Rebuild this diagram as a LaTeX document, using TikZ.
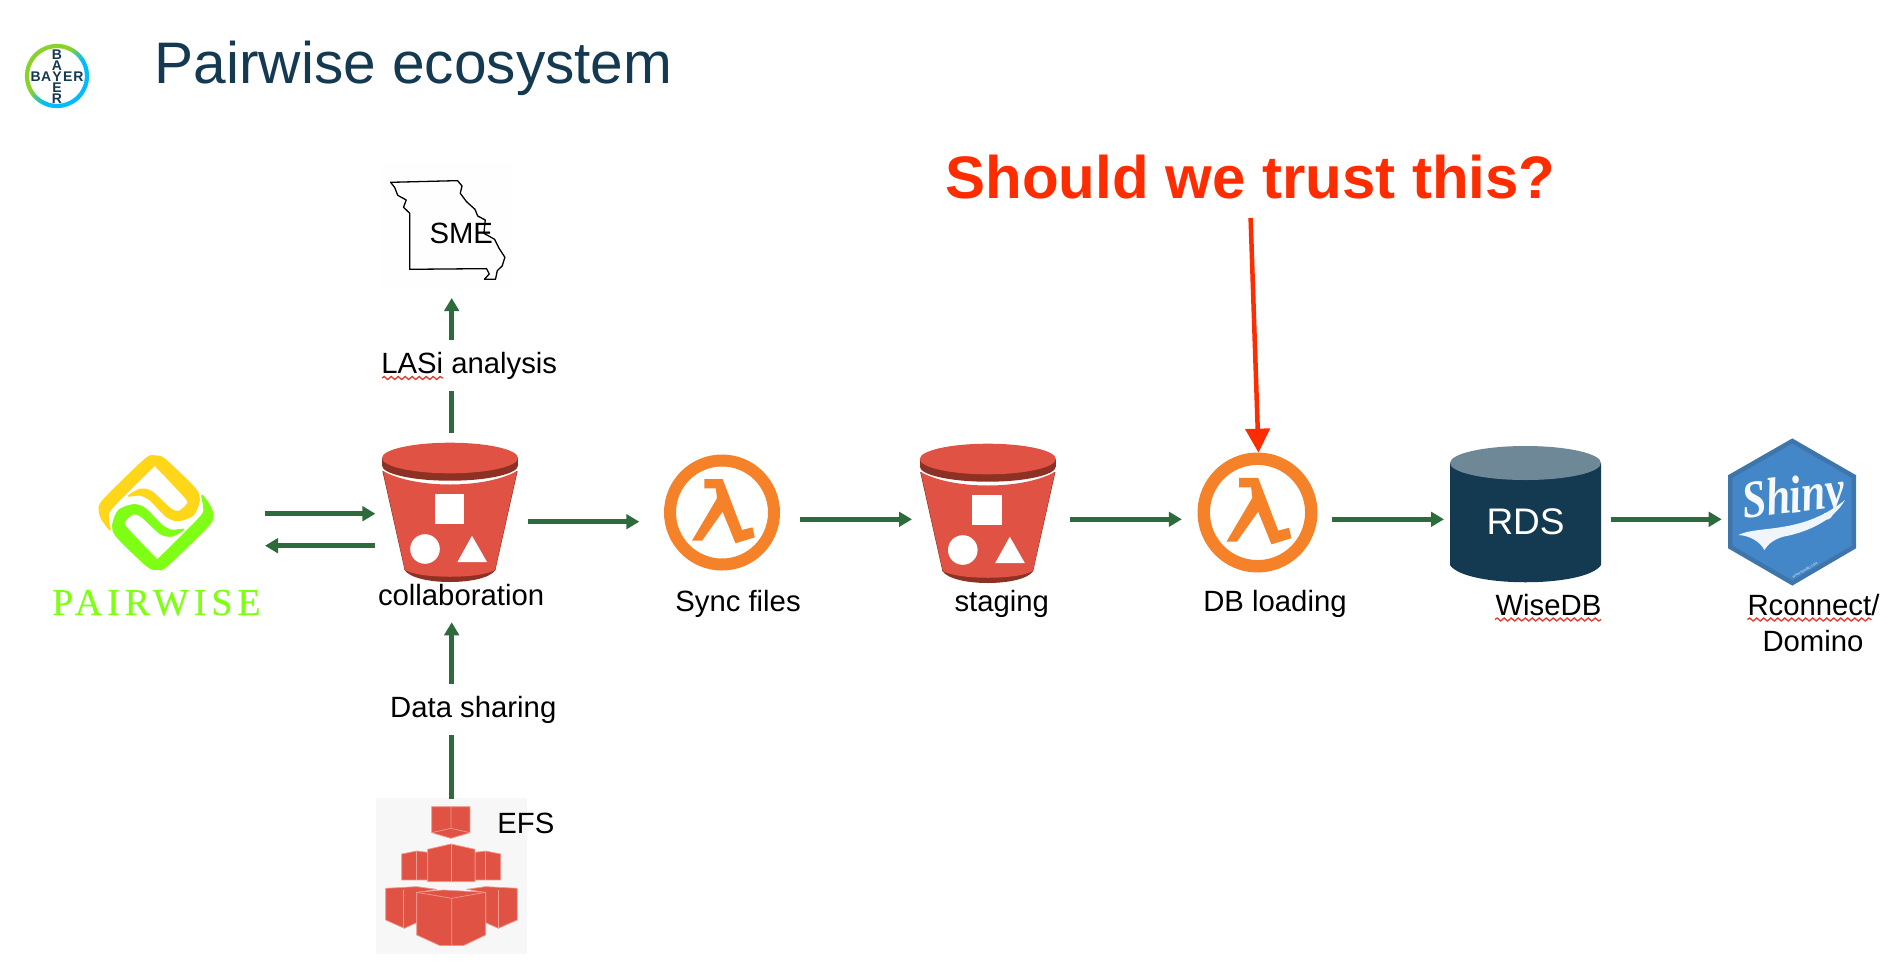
\documentclass[tikz,border=0pt]{standalone}
\usepackage{fontspec}
\setmainfont{Liberation Sans}
\newfontfamily\serifw{Liberation Serif}
\usetikzlibrary{arrows.meta,calc,decorations.pathmorphing}
\definecolor{navy}{HTML}{143A52}
\definecolor{flow}{HTML}{2D6A3C}
\definecolor{alarm}{HTML}{FF2C00}
\definecolor{awsred}{HTML}{E05243}
\definecolor{awsdark}{HTML}{8C3123}
\definecolor{awsedge}{HTML}{F09A90}
\definecolor{lam}{HTML}{F58229}
\definecolor{pwgreen}{HTML}{7FFF14}
\definecolor{pwyellow}{HTML}{FFD618}
\definecolor{bayergreen}{HTML}{89D329}
\definecolor{bayercyan}{HTML}{00BCFF}
\definecolor{rdstop}{HTML}{6E8898}
\definecolor{hexfill}{HTML}{4487C9}
\definecolor{hexedge}{HTML}{3E76AC}
\definecolor{squig}{HTML}{E8372E}
\definecolor{nearwhite}{HTML}{FEFEFE}
\tikzset{
  anchorbox/.style={inner sep=0pt,outer sep=0pt,minimum width=#1},
  lab/.style={inner sep=0pt,outer sep=0pt,anchor=base west,font=\fontsize{29.3}{35}\selectfont,text=black},
  onarrow/.style={lab,fill=white,anchor=base},
  flowarrow/.style={draw=flow,line width=4.5pt,-{Triangle[length=13pt,width=14.5pt]}},
  alarmarrow/.style={draw=alarm,line width=4.5pt,-{Triangle[length=24pt,width=24pt]}},
  squiggle/.style={draw=squig,line width=1.3pt,decorate,decoration={snake,amplitude=1.5pt,segment length=7pt}},
  logoletter/.style={inner sep=0pt,outer sep=0pt,text=navy,font=\fontsize{14}{16}\selectfont\bfseries},
  pics/bucketicon/.style={code={
    \fill[awsdark] (-45.4,108) -- (-45.4,112) .. controls (-35,128) and (35,128) .. (45.4,112) -- (45.4,108) -- cycle;
    \fill[awsdark] (-67.6,13) -- (-45.4,112) -- (-44.4,112) -- (-66,13) -- cycle;
    \fill[awsdark] (67.6,13) -- (45.4,112) -- (44.4,112) -- (66,13) -- cycle;
    \fill[awsred] (-67,13) .. controls (-35,31) and (35,31) .. (67,13) -- (45,112) .. controls (30,121) and (-30,121) .. (-45,112) -- cycle;
    \fill[awsdark] (0,7.5) ellipse [x radius=68,y radius=15.2];
    \fill[awsdark] (-68,0) rectangle (68,7.5);
    \fill[awsred] (0,0) ellipse [x radius=68,y radius=15.3];
    \fill[white] (-15.5,36) rectangle (14,66);
    \fill[white] (-25,91) circle [radius=14.8];
    \fill[white] (7.4,104) -- (37,104) -- (22,77.7) -- cycle;
  }},
  pics/lambdaicon/.style={code={
    \fill[lam,even odd rule] (0,0) circle [radius=58] circle [radius=46];
    \fill[lam] (-17.7,-33.5) -- (0.6,-33.5) -- (20,17.5) -- (30.5,14.8) -- (32.8,24.8) -- (13.5,30.8) -- (0.6,-0.8) -- (-20,28.2) -- (-30,28.2) -- (-5,-14.2) -- (-6.2,-24.2) -- (-17.7,-24.2) -- cycle;
  }},
}
\begin{document}
\begin{tikzpicture}[x=1pt,y=-1pt]
\useasboundingbox (0,0) rectangle (1902,974);
\fill[white] (0,0) rectangle (1902,974);

% ---- Bayer logo
\foreach \a in {0,5,...,355}{
  \pgfmathsetmacro{\t}{max(0,min(100,50-170*cos(\a-135)))}
  \colorlet{ringc}{bayercyan!\t!bayergreen}
  \draw[ringc,line width=4.2pt] ({57+30*cos(\a)},{76-30*sin(\a)}) -- ({57+30*cos(\a+6)},{76-30*sin(\a+6)});
}
\foreach \l/\i in {B/-2,A/-1,E/1,R/2}{
  \node[logoletter] (logov\l) at (57,{76.7+\i*10.9}) {\l};
}
\foreach \l/\i in {B/-2,A/-1,Y/0,E/1,R/2}{
  \node[logoletter] (logoh\l) at ({57+\i*10.7},76.7) {\l};
}

% ---- title
\node[inner sep=0pt,anchor=base west,text=navy,font=\fontsize{58.6}{70}\selectfont] (title) at (154.5,83) {Pairwise ecosystem};

% ---- connector anchors (invisible)
\node[anchorbox=215pt,minimum height=180pt] (pw) at (157.5,525) {};
\node[anchorbox=152.6pt,minimum height=189.3pt] (coll) at (451.7,527.6) {};
\node[anchorbox=160.7pt,minimum height=120pt] (sync) at (719.65,512.5) {};
\node[anchorbox=158pt,minimum height=140pt] (stag) at (991,512.5) {};
\node[anchorbox=150.6pt,minimum height=120pt] (db) at (1257.1,512.7) {};
\node[anchorbox=166.6pt,minimum height=135pt] (rds) at (1527.3,513.5) {};
\node[anchorbox=138.3pt,minimum height=147pt] (shiny) at (1790.85,512) {};
\node[anchorbox=131pt,minimum height=135pt] (sme) at (447.5,230.5) {};
\node[anchorbox=150.7pt,minimum height=156pt] (efs) at (451.35,877) {};
\coordinate (lvA) at (0,513.7);
\coordinate (lvB) at (0,545.7);
\coordinate (lvC) at (0,521.7);
\coordinate (lvD) at (0,519.3);

% ---- SME map
\fill[nearwhite] (382,163) rectangle (513,290);
\begin{scope}[x=0.4464pt,y=-0.3333pt]
\draw[black,line width=1.3pt,line join=round] (875,547) -- (1025,542) -- (1035,558) -- (1031,580) -- (1045,605) -- (1064,628) -- (1070,648) -- (1087,660) -- (1084,700) -- (1108,718) -- (1118,745) -- (1131,772) -- (1125,798) -- (1114,812) -- (1110,838) -- (1085,838) -- (1096,822) -- (1090,806) -- (918,808) -- (918,640) -- (904,622) -- (910,600) -- (891,586) -- (884,562) -- cycle;
\end{scope}
\node[lab] (smelab) at (429.5,243) {SME};

% ---- EFS
\fill[black!3] (376,798) rectangle (526.7,954);
\begin{scope}[shift={(340,640)},x=0.3333pt,y=-0.3333pt,draw=awsedge,line width=0.7pt,fill=awsred,line join=round]
\filldraw (275,500) -- (390,500) -- (390,578) -- (333,595) -- (275,578) -- cycle;
\draw (333,500) -- (333,565) (275,578) -- (333,565) -- (390,578);
\filldraw (185,642) -- (230,633) -- (263,637) -- (263,720) -- (185,720) -- cycle;
\draw (230,633) -- (230,720);
\filldraw (405,637) -- (437,633) -- (482,642) -- (482,720) -- (405,720) -- cycle;
\draw (437,633) -- (437,720);
\filldraw (263,628) -- (333,612) -- (405,628) -- (405,725) -- (263,725) -- cycle;
\draw (333,612) -- (333,725);
\filldraw (137,745) -- (230,740) -- (290,748) -- (230,758) -- (230,848) -- (193,865) -- (137,840) -- cycle;
\draw (190,750) -- (190,865);
\filldraw (380,748) -- (437,740) -- (532,745) -- (532,840) -- (475,865) -- (437,848) -- (437,758) -- cycle;
\draw (475,750) -- (475,865);
\filldraw (230,757) -- (310,750) -- (437,757) -- (437,885) -- (370,917) -- (300,917) -- (230,885) -- cycle;
\draw (230,757) -- (335,775) -- (437,757) (335,775) -- (335,917);
\end{scope}
\node[lab] (efslab) at (497.3,833.3) {EFS};

% ---- Pairwise logo
\begin{scope}[shift={(90,450)},x=0.3333pt,y=-0.3333pt]
\def\pwshape{plot[smooth cycle,tension=0.45] coordinates {(60,240) (36,208) (28,182) (40,150) (165,28) (195,18) (225,28) (315,115) (328,150) (310,195) (265,212) (230,200) (180,150) (150,135) (115,138) (150,118) (185,125) (240,175) (265,185) (290,165) (288,145) (200,52) (190,50) (65,175) (55,205)}}
\filldraw[fill=pwyellow,draw=pwyellow,line width=1.2pt,line join=round] \pwshape;
\begin{scope}[rotate around={180:(198,188)}]
\filldraw[fill=pwgreen,draw=pwgreen,line width=1.2pt,line join=round] \pwshape;
\end{scope}
\end{scope}
\node[inner sep=0pt,anchor=base west,text=pwgreen,font=\serifw\fontsize{38}{44}\selectfont\addfontfeature{LetterSpace=13,FakeBold=0.25}] (pwlab) at (52,615) {PAIRWISE};

% ---- buckets and lambdas
\pic at (450,458) {bucketicon};
\pic at (987.8,459) {bucketicon};
\pic at (722,512.5) {lambdaicon};
\pic[scale=1.034] at (1257.5,512.5) {lambdaicon};

% ---- RDS
\fill[navy] (1450,463) -- (1450,565) .. controls (1465,588) and (1586,588) .. (1601,565) -- (1601,463) -- cycle;
\fill[rdstop] (1525.5,463) ellipse [x radius=75.5,y radius=17];
\node[lab,text=white,font=\fontsize{37}{44}\selectfont] (rdslab) at (1486.5,534) {RDS};

% ---- Shiny hexagon
\filldraw[fill=hexfill,draw=hexedge,line width=4.5pt,line join=miter] (1792.3,441) -- (1853.8,476.5) -- (1853.8,547) -- (1792.3,583) -- (1730.3,547) -- (1730.3,476.5) -- cycle;
\node[inner sep=0pt,text=white!95!hexfill,rotate=7,xscale=0.82,font=\serifw\fontsize{53}{60}\selectfont\bfseries\itshape] (shinylab) at (1794,500) {Shiny};
\begin{scope}[shift={(1725,435)},x=0.3333pt,y=-0.3333pt]
\fill[white!92!hexfill] (40,300) .. controls (100,270) and (230,300) .. (360,195) .. controls (320,265) and (230,295) .. (175,305) .. controls (150,312) and (130,325) .. (118,345) .. controls (105,320) and (75,302) .. (40,300) -- cycle;
\end{scope}
\node[inner sep=0pt,text=white!85!hexfill,rotate=30,font=\fontsize{3.8}{4}\selectfont] (shinyurl) at (1805,570) {www.rstudio.com};

% ---- connectors
\draw[flowarrow] (pw.east |- lvA) -- (coll.west |- lvA);
\draw[flowarrow] (coll.west |- lvB) -- (pw.east |- lvB);
\draw[flowarrow] (coll.east |- lvC) -- (sync.west |- lvC);
\draw[flowarrow] (sync.east |- lvD) -- (stag.west |- lvD);
\draw[flowarrow] (stag.east |- lvD) -- (db.west |- lvD);
\draw[flowarrow] (db.east |- lvD) -- (rds.west |- lvD);
\draw[flowarrow] (rds.east |- lvD) -- (shiny.west |- lvD);
\draw[flowarrow] (coll.north) -- (coll.north |- sme.south);
\draw[flowarrow] (coll.south |- efs.north) -- (coll.south);

% ---- labels
\node[onarrow,text height=33.5pt,text depth=17.5pt] (lasi) at (469.2,373.3) {LASi analysis};
\node[onarrow,text height=33.5pt,text depth=17.5pt] (share) at (473.3,717.3) {Data sharing};
\draw[squiggle] (382,378) -- (443,378);
\node[lab] (colllab) at (378,605.5) {collaboration};
\node[lab] (synclab) at (675.3,611.5) {Sync files};
\node[lab] (staglab) at (954.5,611.5) {staging};
\node[lab] (dblab) at (1203.3,611.5) {DB loading};
\node[lab] (wiselab) at (1495.5,615.5) {WiseDB};
\draw[squiggle] (1495,619.5) -- (1601,619.5);
\node[lab] (rconlab) at (1747.5,615.5) {Rconnect/};
\node[lab] (domlab) at (1762.5,651.5) {Domino};
\draw[squiggle] (1747.5,619.5) -- (1871.5,619.5);

% ---- question
\node[inner sep=0pt,outer sep=0pt,anchor=base,text=alarm,text depth=20pt,font=\fontsize{60}{70}\selectfont\bfseries] (ask) at (1250.6,198) {Should we trust this?};
\draw[alarmarrow] (ask.south) -- ($(db.north)+(1.4,0)$);
\end{tikzpicture}
\end{document}
